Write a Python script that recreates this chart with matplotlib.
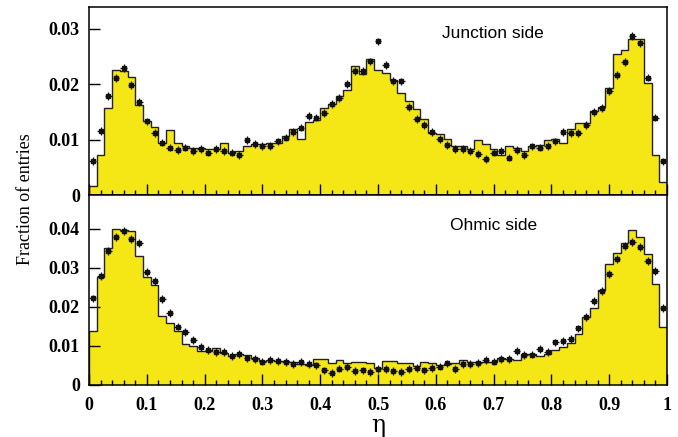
import numpy as np
import matplotlib
matplotlib.use("Agg")
import matplotlib.pyplot as plt

n_bins = 75
edges = np.linspace(0, 1, n_bins + 1)

junction_hist = [
    0.0017, 0.0072, 0.0158, 0.0225, 0.0224, 0.0213, 0.0163, 0.0133, 0.0123, 0.0094,
    0.0117, 0.0094, 0.0088, 0.0086, 0.0086, 0.0083, 0.0083, 0.0095, 0.0076, 0.0079,
    0.0088, 0.0092, 0.0092, 0.0095, 0.0095, 0.0107, 0.0119, 0.0101, 0.0132, 0.0136,
    0.0158, 0.0164, 0.0178, 0.0190, 0.0232, 0.0219, 0.0246, 0.0225, 0.0220, 0.0208,
    0.0185, 0.0169, 0.0155, 0.0137, 0.0112, 0.0110, 0.0101, 0.0088, 0.0088, 0.0083,
    0.0099, 0.0092, 0.0083, 0.0073, 0.0089, 0.0085, 0.0080, 0.0089, 0.0091, 0.0100,
    0.0101, 0.0095, 0.0119, 0.0130, 0.0130, 0.0151, 0.0159, 0.0193, 0.0255, 0.0261,
    0.0281, 0.0281, 0.0203, 0.0072, 0.0024,
]
junction_data = [
    0.0062, 0.0116, 0.0179, 0.0211, 0.0229, 0.0199, 0.0168, 0.0133, 0.0112, 0.0095,
    0.0086, 0.0082, 0.0086, 0.0080, 0.0083, 0.0077, 0.0083, 0.0080, 0.0077, 0.0072,
    0.0100, 0.0092, 0.0089, 0.0089, 0.0097, 0.0104, 0.0114, 0.0122, 0.0143, 0.0140,
    0.0148, 0.0164, 0.0175, 0.0200, 0.0224, 0.0224, 0.0241, 0.0277, 0.0235, 0.0206,
    0.0205, 0.0159, 0.0138, 0.0126, 0.0114, 0.0101, 0.0091, 0.0084, 0.0083, 0.0080,
    0.0075, 0.0066, 0.0077, 0.0080, 0.0068, 0.0082, 0.0073, 0.0088, 0.0086, 0.0089,
    0.0097, 0.0114, 0.0112, 0.0112, 0.0127, 0.0150, 0.0157, 0.0188, 0.0217, 0.0240,
    0.0287, 0.0274, 0.0212, 0.0140, 0.0061,
]

ohmic_hist = [
    0.0137, 0.0276, 0.0350, 0.0399, 0.0398, 0.0394, 0.0330, 0.0277, 0.0256, 0.0175,
    0.0159, 0.0138, 0.0104, 0.0100, 0.0087, 0.0087, 0.0093, 0.0082, 0.0074, 0.0078,
    0.0076, 0.0067, 0.0060, 0.0063, 0.0061, 0.0061, 0.0059, 0.0053, 0.0050, 0.0065,
    0.0065, 0.0054, 0.0062, 0.0054, 0.0058, 0.0057, 0.0055, 0.0043, 0.0060, 0.0060,
    0.0056, 0.0054, 0.0047, 0.0057, 0.0055, 0.0049, 0.0053, 0.0054, 0.0063, 0.0059,
    0.0057, 0.0059, 0.0059, 0.0067, 0.0065, 0.0063, 0.0078, 0.0078, 0.0073, 0.0078,
    0.0089, 0.0097, 0.0106, 0.0130, 0.0173, 0.0196, 0.0243, 0.0310, 0.0339, 0.0363,
    0.0397, 0.0380, 0.0335, 0.0258, 0.0149,
]
ohmic_data = [
    0.0221, 0.0279, 0.0343, 0.0378, 0.0395, 0.0373, 0.0363, 0.0288, 0.0266, 0.0220,
    0.0183, 0.0149, 0.0134, 0.0114, 0.0096, 0.0089, 0.0084, 0.0083, 0.0073, 0.0078,
    0.0067, 0.0065, 0.0059, 0.0062, 0.0061, 0.0057, 0.0053, 0.0058, 0.0052, 0.0049,
    0.0036, 0.0030, 0.0041, 0.0045, 0.0035, 0.0036, 0.0033, 0.0039, 0.0039, 0.0034,
    0.0033, 0.0039, 0.0042, 0.0036, 0.0042, 0.0046, 0.0054, 0.0039, 0.0052, 0.0052,
    0.0056, 0.0063, 0.0059, 0.0066, 0.0065, 0.0086, 0.0076, 0.0077, 0.0091, 0.0083,
    0.0108, 0.0112, 0.0116, 0.0144, 0.0174, 0.0215, 0.0240, 0.0283, 0.0322, 0.0356,
    0.0367, 0.0354, 0.0317, 0.0292, 0.0196,
]

x_ticks = [0, 0.1, 0.2, 0.3, 0.4, 0.5, 0.6, 0.7, 0.8, 0.9, 1]
x_labels = ["0", "0.1", "0.2", "0.3", "0.4", "0.5", "0.6", "0.7", "0.8", "0.9", "1"]
top_yticks = [0, 0.01, 0.02, 0.03]
top_ylabels = ["0", "0.01", "0.02", "0.03"]
bot_yticks = [0, 0.01, 0.02, 0.03, 0.04]
bot_ylabels = ["0", "0.01", "0.02", "0.03", "0.04"]

yellow = "#f5e616"
centers = 0.5 * (edges[:-1] + edges[1:])
half_w = 0.5 * (edges[1] - edges[0])

fig = plt.figure(figsize=(6.78, 4.37), dpi=100)
ax_top = fig.add_axes([0.1313, 0.5531, 0.8525, 0.4309])
ax_bot = fig.add_axes([0.1313, 0.1201, 0.8525, 0.4330])

panels = [
    (ax_top, junction_hist, junction_data, 0.0339, top_yticks, top_ylabels, 0.0007, "Junction side", 0.610, 0.857),
    (ax_bot, ohmic_hist, ohmic_data, 0.0486, bot_yticks, bot_ylabels, 0.0010, "Ohmic side", 0.625, 0.838),
]

for ax, hist, data, ymax, yt, yl, yerr, title, tx, ty in panels:
    ax.stairs(hist, edges, fill=True, color=yellow, zorder=1)
    ax.stairs(hist, edges, color="#222222", linewidth=1.0, zorder=2)
    ax.errorbar(centers, data, xerr=half_w * 0.9, yerr=yerr, fmt="s", color="#111111",
                markersize=2.5, elinewidth=0.9, capsize=0, zorder=3)
    ax.set_xlim(0, 1)
    ax.set_ylim(0, ymax)
    ax.set_yticks(yt)
    ax.set_yticklabels(yl, fontfamily="Liberation Serif", fontweight="bold", fontsize=13)
    ax.set_xticks(x_ticks)
    ax.set_xticks(np.arange(0, 1.001, 0.02), minor=True)
    ax.tick_params(axis="both", which="major", direction="in", length=8, width=1)
    ax.tick_params(axis="x", which="minor", direction="in", length=3.5, width=1)
    ax.tick_params(axis="y", which="major", pad=6.5)
    for s in ax.spines.values():
        s.set_linewidth(1.1)
    ax.text(tx, ty, title, transform=ax.transAxes, fontsize=12.5,
            fontfamily="Liberation Sans", va="center", ha="left")

ax_top.set_xticklabels([])
ax_bot.set_xticklabels(x_labels, fontfamily="Liberation Serif", fontweight="bold", fontsize=13)
ax_bot.tick_params(axis="x", which="major", pad=9)
ax_bot.set_xlabel("η", fontfamily="DejaVu Serif", fontsize=17, labelpad=0)

fig.text(0.0376, 0.5446, "Fraction of entries", rotation=90, ha="center", va="center",
         fontfamily="Liberation Serif", fontsize=13)

plt.savefig("out.png", dpi=100)
plt.close()
